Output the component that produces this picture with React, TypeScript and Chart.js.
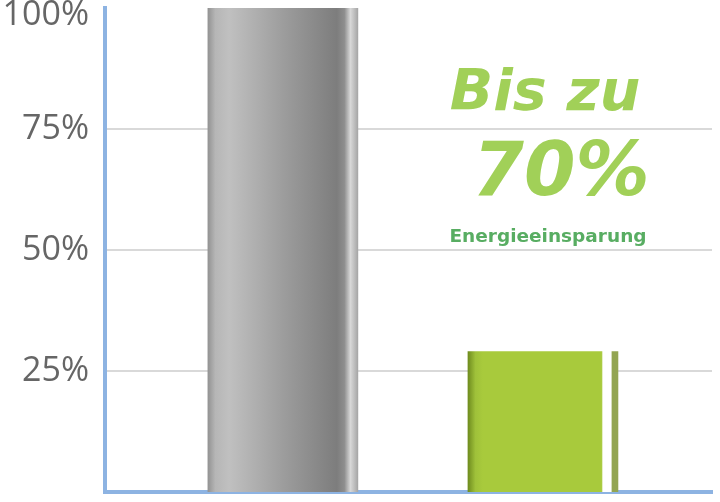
import { useEffect, useRef } from 'react'
import { Chart, registerables } from 'chart.js'

Chart.register(...registerables)

const categories = ['Herkömmlich', 'Energiesparend']
const shares = [100, 29]
const tickValues = [25, 50, 75, 100]

const headline = 'Bis zu'
const savingLabel = '70%'
const subline = 'Energieeinsparung'

const AXIS_BLUE = '#8db3e2'
const FALLBACK = ['#9b9b9b', '#a8ca3c']

function barGradient(ctx: CanvasRenderingContext2D, left: number, width: number, index: number) {
  const g = ctx.createLinearGradient(left, 0, left + width, 0)
  if (index === 0) {
    g.addColorStop(0, '#939393')
    g.addColorStop(0.05, '#b6b6b6')
    g.addColorStop(0.14, '#c0c0c0')
    g.addColorStop(0.5, '#9d9d9d')
    g.addColorStop(0.86, '#7d7d7d')
    g.addColorStop(0.91, '#8e8e8e')
    g.addColorStop(0.95, '#d8d8d8')
    g.addColorStop(1, '#a6a6a6')
  } else {
    g.addColorStop(0, '#6f8c1e')
    g.addColorStop(0.05, '#9fc13a')
    g.addColorStop(0.1, '#a8ca3c')
    g.addColorStop(0.89, '#a8ca3c')
    g.addColorStop(0.9, '#ffffff')
    g.addColorStop(0.955, '#ffffff')
    g.addColorStop(0.96, '#93a552')
    g.addColorStop(1, '#93a552')
  }
  return g
}

const savingsText = {
  id: 'savingsText',
  afterDatasetsDraw(chart: Chart) {
    const { ctx } = chart
    ctx.save()
    ctx.textAlign = 'center'
    ctx.textBaseline = 'alphabetic'
    ctx.fillStyle = '#a1d058'
    ctx.font = 'italic bold 57px "DejaVu Sans"'
    ctx.fillText(headline, 545, 110)
    ctx.font = 'italic bold 74px "DejaVu Sans"'
    ctx.fillText(savingLabel, 561, 195)
    ctx.fillStyle = '#58ad62'
    ctx.font = 'bold 18.5px "DejaVu Sans"'
    ctx.fillText(subline, 548, 242)
    ctx.restore()
  },
}

export default function App() {
  const canvasRef = useRef<HTMLCanvasElement>(null)
  const chartRef = useRef<Chart | null>(null)

  useEffect(() => {
    if (!canvasRef.current) return
    if (chartRef.current) chartRef.current.destroy()

    const top = tickValues[tickValues.length - 1]

    chartRef.current = new Chart(canvasRef.current, {
      type: 'bar',
      data: {
        labels: categories,
        datasets: [
          {
            label: 'Energieverbrauch',
            data: shares.map((v, i) => ({ x: i + 1, y: v })),
            barThickness: 150,
            borderWidth: 0,
            backgroundColor: (c: any) => {
              const xs = c.chart.scales?.x
              const cx = xs ? xs.getPixelForValue(c.dataIndex + 1) : NaN
              if (!Number.isFinite(cx)) return FALLBACK[c.dataIndex] ?? '#999'
              return barGradient(c.chart.ctx, cx - 75, 150, c.dataIndex)
            },
          },
        ],
      },
      options: {
        animation: false,
        responsive: true,
        maintainAspectRatio: false,
        layout: { padding: { top: 8, right: 8, bottom: 8, left: 0 } },
        plugins: { legend: { display: false }, tooltip: { enabled: false } },
        scales: {
          x: {
            type: 'linear',
            offset: false,
            min: 0.316,
            max: 2.65,
            grid: { display: false },
            ticks: { display: false },
            border: { color: AXIS_BLUE, width: 4 },
            afterFit: (s: any) => {
              s.height = 2
              s.paddingLeft = 0
              s.paddingRight = 0
            },
          },
          y: {
            min: 0,
            max: 100,
            afterFit: (s: any) => {
              s.width = 105
              s.paddingTop = 0
              s.paddingBottom = 0
            },
            afterBuildTicks: (s: any) => { s.ticks = tickValues.map((v) => ({ value: v })) },
            grid: {
              drawTicks: false,
              lineWidth: 2,
              color: (c: any) => (c.tick && c.tick.value < top ? '#d9d9d9' : 'rgba(0,0,0,0)'),
            },
            border: { color: AXIS_BLUE, width: 4 },
            ticks: {
              padding: 16,
              color: '#666666',
              // the top label sits a little below its line so it is not cut off
              font: (c: any) => ({
                family: '"Open Sans"',
                size: 34,
                weight: 400,
                lineHeight: c.tick?.value === top ? 0.45 : 1.2,
              }),
              callback: (v: any) => (v === top ? ['', `${v}%`] : `${v}%`),
            },
          },
        },
      },
      plugins: [savingsText],
    })

    return () => { chartRef.current?.destroy() }
  }, [])

  return (
    <div style={{ position: 'fixed', left: 0, top: 0, width: 720, height: 502, background: '#fff' }}>
      <canvas ref={canvasRef} />
    </div>
  )
}
